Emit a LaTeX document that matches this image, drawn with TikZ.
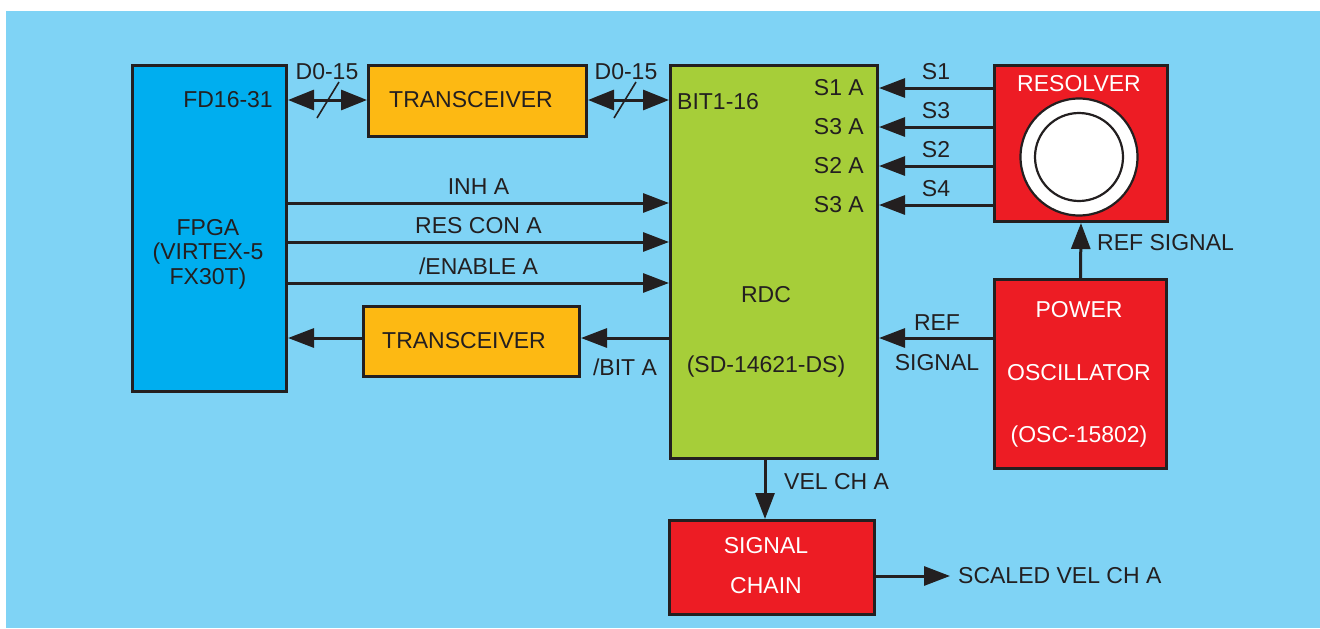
\documentclass[tikz,border=0pt]{standalone}
\usepackage{fontspec}
\setmainfont{Liberation Sans}
\usetikzlibrary{arrows.meta}
\definecolor{bgblue}{RGB}{127,211,245}
\definecolor{fpgablue}{RGB}{0,174,239}
\definecolor{txorange}{RGB}{253,185,19}
\definecolor{rdcgreen}{RGB}{166,206,57}
\definecolor{boxred}{RGB}{237,28,36}
\definecolor{ink}{RGB}{35,31,32}
\begin{document}
\begin{tikzpicture}[x=1pt,y=-1pt,
  font=\fontsize{23}{27}\selectfont,
  box/.style={draw=ink, line width=3pt, inner sep=0pt, anchor=north west},
  lbl/.style={inner sep=0pt, text=ink},
  wlbl/.style={inner sep=0pt, text=white},
  conn/.style={draw=ink, line width=3pt, -{Triangle[length=26pt,width=19pt]}},
  dconn/.style={draw=ink, line width=3pt, {Triangle[length=26pt,width=20pt]}-{Triangle[length=26pt,width=20pt]}},
  slash/.style={draw=ink, line width=1.6pt}]
\useasboundingbox (0,0) rectangle (1320,629);
\fill[white] (0,0) rectangle (1320,629);
\fill[bgblue] (6,11) rectangle (1320,628);

% boxes
\node[box, fill=fpgablue, minimum width=154pt, minimum height=326pt] (fpga) at (131,64) {};
\node[box, fill=txorange, minimum width=218pt, minimum height=71pt] (tx1) at (367,64) {};
\node[box, fill=txorange, minimum width=216pt, minimum height=70pt] (tx2) at (362,305) {};
\node[box, fill=rdcgreen, minimum width=207pt, minimum height=393pt] (rdc) at (669,64) {};
\node[box, fill=boxred, minimum width=173pt, minimum height=156pt] (res) at (993,64) {};
\node[box, fill=boxred, minimum width=172pt, minimum height=189pt] (osc) at (993,278) {};
\node[box, fill=boxred, minimum width=205pt, minimum height=94pt] (sc) at (668,519) {};

% resolver circles
\draw[ink, fill=white, line width=2.2pt] (1079,157) circle (58.5);
\draw[ink, fill=white, line width=2.2pt] (1079,157) circle (44);

% box texts
\node[lbl, anchor=east] (fd) at (273,100) {FD16-31};
\node[lbl] (fpgat1) at (208,228) {FPGA};
\node[lbl] (fpgat2) at (208,254) {(VIRTEX-5};
\node[lbl] (fpgat3) at (208,279) {FX30T)};
\node[lbl] (tx1t) at (471,100) {TRANSCEIVER};
\node[lbl] (tx2t) at (464,341) {TRANSCEIVER};
\node[lbl, anchor=west] (bit) at (677,102) {BIT1-16};
\node[lbl, anchor=east] (s1a) at (864,88) {S1 A};
\node[lbl, anchor=east] (s3a) at (864,127) {S3 A};
\node[lbl, anchor=east] (s2a) at (864,166) {S2 A};
\node[lbl, anchor=east] (s3b) at (864,205) {S3 A};
\node[lbl] (rdct) at (766,295) {RDC};
\node[lbl] (rdcp) at (766,367) {(SD-14621-DS)};
\node[wlbl] (rest) at (1079,84) {RESOLVER};
\node[wlbl] (osct1) at (1079,310) {POWER};
\node[wlbl] (osct2) at (1079,373) {OSCILLATOR};
\node[wlbl] (osct3) at (1079,437) {(OSC-15802)};
\node[wlbl] (sct1) at (766,546) {SIGNAL};
\node[wlbl] (sct2) at (766,586) {CHAIN};

% data buses
\draw[dconn] (fpga.east |- 0,100) -- (tx1.west |- 0,100);
\draw[slash] (317,118) -- (339,82);
\node[lbl] (d1) at (327,72) {D0-15};
\draw[dconn] (tx1.east |- 0,100) -- (rdc.west |- 0,100);
\draw[slash] (614,118) -- (636,82);
\node[lbl] (d2) at (626,72) {D0-15};

% control lines
\draw[conn] (fpga.east |- 0,203) -- node[lbl, above=7pt] (inh) {INH A} (rdc.west |- 0,203);
\draw[conn] (fpga.east |- 0,242) -- node[lbl, above=7pt] (rescon) {RES CON A} (rdc.west |- 0,242);
\draw[conn] (fpga.east |- 0,283) -- node[lbl, above=7pt] (ena) {/ENABLE A} (rdc.west |- 0,283);

% BIT return
\draw[conn] (rdc.west |- 0,338) -- (tx2.east |- 0,338);
\node[lbl] (bita) at (625,367) {/BIT A};
\draw[conn] (tx2.west |- 0,338) -- (fpga.east |- 0,338);

% resolver signals
\draw[conn] (res.west |- 0,88) -- node[lbl, above=7pt] (s1) {S1} (rdc.east |- 0,88);
\draw[conn] (res.west |- 0,127) -- node[lbl, above=7pt] (s3) {S3} (rdc.east |- 0,127);
\draw[conn] (res.west |- 0,166) -- node[lbl, above=7pt] (s2) {S2} (rdc.east |- 0,166);
\draw[conn] (res.west |- 0,205) -- node[lbl, above=7pt] (s4) {S4} (rdc.east |- 0,205);

% reference signals
\draw[conn] (osc.north) -- (res.south);
\node[lbl, anchor=west] (refsig) at (1097,243) {REF SIGNAL};
\draw[conn] (osc.west |- 0,338) -- (rdc.east |- 0,338);
\node[lbl] (ref1) at (937,323) {REF};
\node[lbl] (ref2) at (937,363) {SIGNAL};

% velocity
\draw[conn] (rdc.south -| 765,0) -- (sc.north -| 765,0);
\node[lbl, anchor=west] (vel) at (784,482) {VEL CH A};
\coordinate (outend) at (950,576);
\draw[conn] (sc.east |- 0,576) -- (outend);
\node[lbl, anchor=west] (scaled) at (958,576) {SCALED VEL CH A};
\end{tikzpicture}
\end{document}
